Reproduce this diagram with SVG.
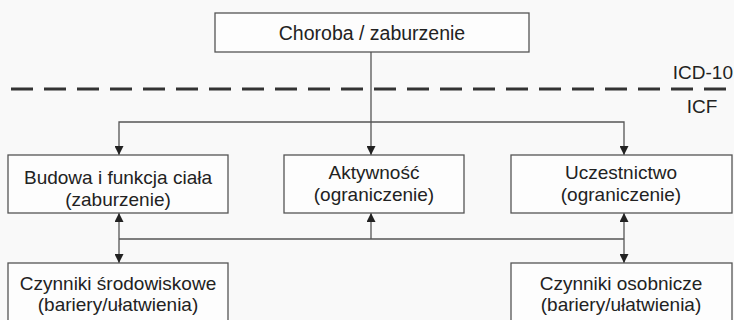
<svg xmlns="http://www.w3.org/2000/svg" width="734" height="320" viewBox="0 0 734 320">
<style>
.box{fill:#fdfdfd;stroke:#555;stroke-width:1.3}
.t{font-family:"Liberation Sans",Arial,sans-serif;font-size:19px;fill:#222;text-anchor:middle}
.c{fill:none;stroke:#555;stroke-width:1.3}
</style>
<defs>
<marker id="ah" viewBox="0 0 10 10" refX="10" refY="5" markerWidth="9" markerHeight="9" markerUnits="userSpaceOnUse" orient="auto-start-reverse">
<path d="M0,0 L10,5 L0,10 z" fill="#222"/>
</marker>
</defs>
<rect x="0" y="0" width="734" height="320" fill="#f9f9f9"/>
<line x1="11" y1="89" x2="734" y2="89" stroke="#333" stroke-width="3" stroke-dasharray="22 11"/>
<text class="t" x="733" y="79" style="text-anchor:end">ICD-10</text>
<text class="t" x="702" y="113">ICF</text>
<g id="connectors">
<line class="c" x1="371" y1="52" x2="371" y2="155" marker-end="url(#ah)"/>
<polyline class="c" points="119,155 119,122 624,122 624,155" marker-start="url(#ah)" marker-end="url(#ah)"/>
<line class="c" x1="119" y1="213" x2="119" y2="263" marker-start="url(#ah)" marker-end="url(#ah)"/>
<line class="c" x1="624" y1="213" x2="624" y2="263" marker-start="url(#ah)" marker-end="url(#ah)"/>
<line class="c" x1="119" y1="239" x2="624" y2="239"/>
<line class="c" x1="371" y1="239" x2="371" y2="213" marker-end="url(#ah)"/>
</g>
<g id="choroba">
<rect class="box" x="215" y="13" width="314" height="39"/>
<text class="t" x="372" y="40" style="font-size:19.5px">Choroba / zaburzenie</text>
</g>
<g id="budowa">
<rect class="box" x="8" y="155" width="220" height="58"/>
<text class="t" x="118" y="184">Budowa i funkcja ciała</text>
<text class="t" x="118" y="205.5">(zaburzenie)</text>
</g>
<g id="aktywnosc">
<rect class="box" x="284" y="155" width="180" height="58"/>
<text class="t" x="374" y="179">Aktywność</text>
<text class="t" x="374" y="200.5">(ograniczenie)</text>
</g>
<g id="uczestnictwo">
<rect class="box" x="511" y="155" width="221" height="58"/>
<text class="t" x="621" y="179">Uczestnictwo</text>
<text class="t" x="621" y="200.5">(ograniczenie)</text>
</g>
<g id="srodowiskowe">
<rect class="box" x="8" y="263" width="220" height="70"/>
<text class="t" x="118" y="289.5">Czynniki środowiskowe</text>
<text class="t" x="118" y="311">(bariery/ułatwienia)</text>
</g>
<g id="osobnicze">
<rect class="box" x="511" y="263" width="221" height="70"/>
<text class="t" x="621" y="289.5">Czynniki osobnicze</text>
<text class="t" x="621" y="311">(bariery/ułatwienia)</text>
</g>
</svg>
